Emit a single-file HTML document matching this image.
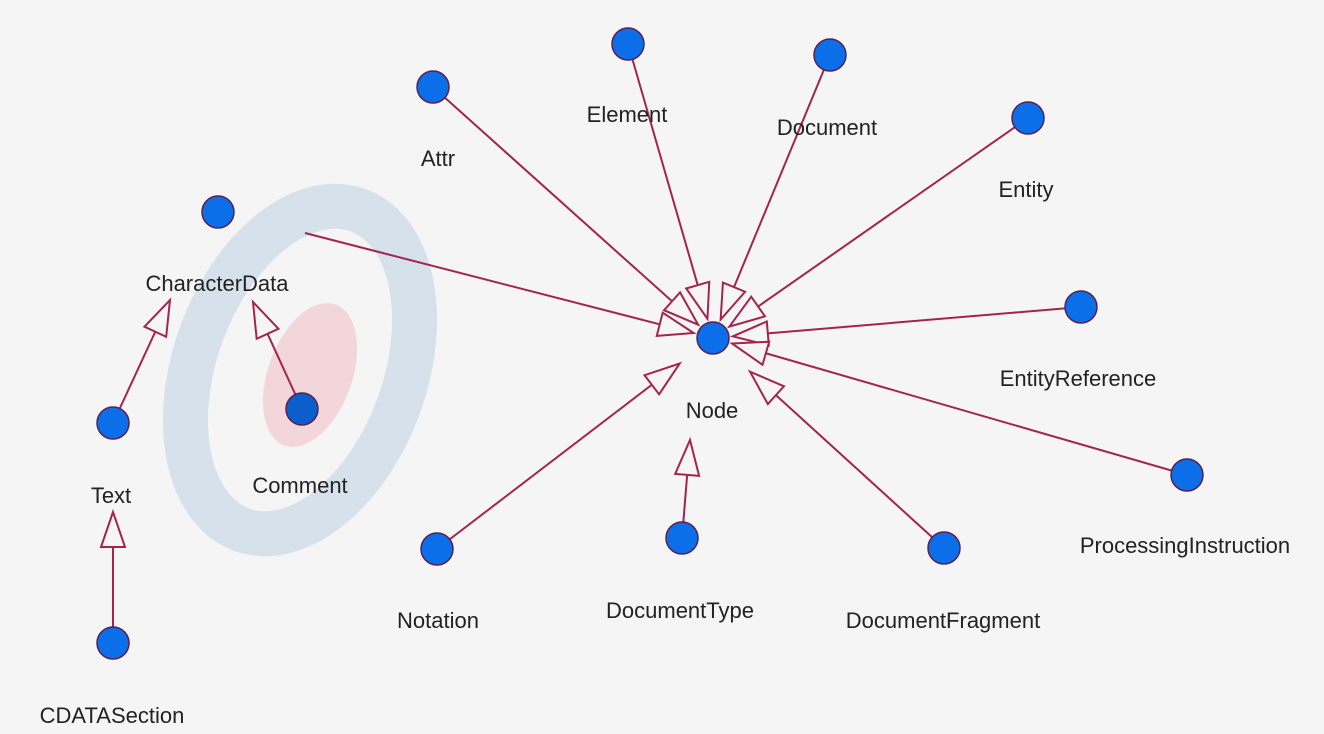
<!DOCTYPE html>
<html><head><meta charset="utf-8"><style>
html,body{margin:0;padding:0;background:#f5f5f5;}
svg{display:block}
text{font-family:"Liberation Sans",sans-serif;font-size:22px;fill:#222;text-anchor:middle}
</style></head><body>
<svg width="1324" height="734" viewBox="0 0 1324 734">
<rect width="1324" height="734" fill="#f5f5f5"/>
<ellipse cx="300" cy="370" rx="105" ry="170" transform="rotate(20 300 370)" fill="none" stroke="#d6e1ec" stroke-width="45"/>
<ellipse cx="310" cy="375" rx="42" ry="75" transform="rotate(20 310 375)" fill="#f3d6da"/>
<g stroke="#a3244f" stroke-width="2" fill="none" id="lines"></g>
<g id="nodes"></g>
<g>
<text x="438" y="166">Attr</text>
<text x="627" y="122">Element</text>
<text x="827" y="135">Document</text>
<text x="1026" y="197">Entity</text>
<text x="217" y="291">CharacterData</text>
<text x="1078" y="386">EntityReference</text>
<text x="712" y="418">Node</text>
<text x="1185" y="553">ProcessingInstruction</text>
<text x="943" y="628">DocumentFragment</text>
<text x="680" y="618">DocumentType</text>
<text x="438" y="628">Notation</text>
<text x="300" y="493">Comment</text>
<text x="111" y="503">Text</text>
<text x="112" y="723">CDATASection</text>
</g>
</svg>
<script>
const ns="http://www.w3.org/2000/svg";
const L=document.getElementById('lines'),N=document.getElementById('nodes');
const cx=713,cy=338;
function arrow(sx,sy,tx,ty){
 const dx=tx-sx,dy=ty-sy,d=Math.hypot(dx,dy),ux=dx/d,uy=dy/d;
 const bx=tx-ux*35,by=ty-uy*35,px=-uy*12,py=ux*12;
 const l=document.createElementNS(ns,'line');
 l.setAttribute('x1',sx);l.setAttribute('y1',sy);l.setAttribute('x2',bx);l.setAttribute('y2',by);L.appendChild(l);
 const p=document.createElementNS(ns,'polygon');
 p.setAttribute('points',`${tx},${ty} ${bx+px},${by+py} ${bx-px},${by-py}`);p.setAttribute('fill','#f5f5f5');L.appendChild(p);
}
function toNode(sx,sy,r){const dx=cx-sx,dy=cy-sy,d=Math.hypot(dx,dy);arrow(sx,sy,cx-dx/d*r,cy-dy/d*r);}
toNode(433,87,20);toNode(628,44,20);toNode(830,55,20);toNode(1028,118,20);toNode(305,233,20);
toNode(1081,307,20);toNode(1187,475,20);toNode(944,548,50);toNode(437,549,42);
arrow(682,538,690,440);arrow(113,423,170,300);arrow(302,409,253,302);arrow(113,643,113,512);
[[713,338],[433,87],[628,44],[830,55],[1028,118],[218,212],[1081,307],[1187,475],[944,548],[437,549],[682,538],[113,423],[302,409],[113,643]].forEach(([x,y],i)=>{
 const c=document.createElementNS(ns,'circle');c.setAttribute('cx',x);c.setAttribute('cy',y);c.setAttribute('r',16);
 c.setAttribute('fill',i==12?'#0a5fcc':'#0a6fe8');c.setAttribute('stroke','#5a2050');c.setAttribute('stroke-width','1.5');N.appendChild(c);
});
</script>
</body></html>
